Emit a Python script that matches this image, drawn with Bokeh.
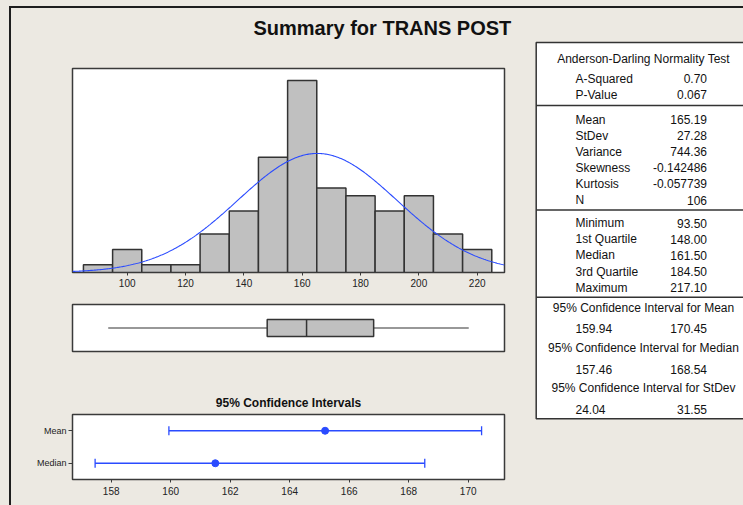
import numpy as np
from bokeh.plotting import figure
from bokeh.layouts import row, column
from bokeh.models import Range1d, FixedTicker, FactorRange, Spacer, Title
from bokeh.core.properties import value
from bokeh.embed import file_html
from bokeh.resources import INLINE

# ---------------- data ----------------
title_text = "Summary for TRANS POST"
bin_centers = [90, 100, 110, 120, 130, 140, 150, 160, 170, 180, 190, 200, 210, 220]
counts = [1, 3, 1, 1, 5, 8, 15, 25, 11, 10, 8, 10, 5, 3]
bin_width = 10
hist_ticks = [100, 120, 140, 160, 180, 200, 220]

mean_val = 165.19
stdev_val = 27.28
n_val = 106
box_min, box_q1, box_med, box_q3, box_max = 93.50, 148.00, 161.50, 184.50, 217.10

ci_title = "95% Confidence Intervals"
ci_cats = ["Mean", "Median"]
ci_centers = [165.19, 161.50]
ci_lower = [159.94, 157.46]
ci_upper = [170.45, 168.54]
ci_ticks = [158, 160, 162, 164, 166, 168, 170]

ad_header = "Anderson-Darling Normality Test"
ad_labels = ["A-Squared", "P-Value"]
ad_values = ["0.70", "0.067"]
desc_labels = ["Mean", "StDev", "Variance", "Skewness", "Kurtosis", "N"]
desc_values = ["165.19", "27.28", "744.36", "-0.142486", "-0.057739", "106"]
quart_labels = ["Minimum", "1st Quartile", "Median", "3rd Quartile", "Maximum"]
quart_values = ["93.50", "148.00", "161.50", "184.50", "217.10"]
ci_headers = ["95% Confidence Interval for Mean",
              "95% Confidence Interval for Median",
              "95% Confidence Interval for StDev"]
ci_tab_lo = ["159.94", "157.46", "24.04"]
ci_tab_hi = ["170.45", "168.54", "31.55"]

# ---------------- style ----------------
BG = "#ECE9E2"
FRAME = "#3A3A3A"
BAR = "#C0C0C0"
BLUE = "#2A4BFF"
DARK = "#1E1E1E"
FONT = "Liberation Sans"
LEFT_W = 519
TAB_W = 213
MAIN_H = 497


def base_fig(**kw):
    p = figure(output_backend="svg", toolbar_location=None, **kw)
    p.background_fill_color = "white"
    p.border_fill_color = BG
    p.outline_line_color = FRAME
    p.outline_line_width = 1.5
    p.grid.visible = False
    return p


# ---------------- histogram (with main title) ----------------
hx0, hx1, hy1 = 81.25, 229.36, 26.56
hist = base_fig(width=LEFT_W, height=292, x_range=Range1d(hx0, hx1), y_range=Range1d(0, hy1),
                y_axis_location=None, min_border_left=61, min_border_right=26,
                min_border_top=60, min_border_bottom=28)
# blank gap between frame and main title, then the main title itself
hist.add_layout(Title(text=" ", text_font_size="10px", standoff=17), "above")
hist.add_layout(Title(text=title_text, align="left", offset=181, standoff=0,
                      text_font=FONT, text_font_size="20px", text_font_style="bold",
                      text_color="#111111"), "above")

lefts = [c - bin_width / 2 for c in bin_centers]
rights = [c + bin_width / 2 for c in bin_centers]
hist.quad(left=lefts, right=rights, bottom=0, top=counts, fill_color=BAR,
          line_color="#333333", line_width=1.5)
xs = np.linspace(hx0, hx1, 400)
ys = n_val * bin_width * np.exp(-0.5 * ((xs - mean_val) / stdev_val) ** 2) / (stdev_val * np.sqrt(2 * np.pi))
hist.line(xs, ys, line_color=BLUE, line_width=1.1)
hist.xaxis.ticker = FixedTicker(ticks=hist_ticks)
hist.xaxis.minor_tick_line_color = None
hist.xaxis.major_tick_in = 0
hist.xaxis.major_tick_out = 3
hist.xaxis.major_label_standoff = 3
hist.xaxis.major_label_text_font = FONT
hist.xaxis.major_label_text_font_size = "10px"
hist.xaxis.major_label_text_color = "#222222"
hist.xaxis.axis_line_color = FRAME
hist.xaxis.major_tick_line_color = FRAME

# ---------------- boxplot ----------------
box = base_fig(width=LEFT_W, height=80, x_range=hist.x_range, y_range=Range1d(0, 1),
               x_axis_location=None, y_axis_location=None, min_border_left=61, min_border_right=26,
               min_border_top=4, min_border_bottom=29)
box.segment(x0=[box_min, box_q3], y0=[0.5, 0.5], x1=[box_q1, box_max], y1=[0.5, 0.5],
            line_color="#333333", line_width=1.2)
box.quad(left=[box_q1], right=[box_q3], bottom=[0.32], top=[0.68], fill_color=BAR,
         line_color="#333333", line_width=1.5)
box.segment(x0=[box_med], y0=[0.32], x1=[box_med], y1=[0.68], line_color="#333333", line_width=1.5)

# ---------------- confidence intervals ----------------
ci = base_fig(width=LEFT_W, height=125, x_range=Range1d(156.70, 171.22),
              y_range=FactorRange(factors=list(reversed(ci_cats))),
              min_border_left=61, min_border_right=26, min_border_top=34, min_border_bottom=26,
              title=ci_title)
ci.title.align = "center"
ci.title.text_font = FONT
ci.title.text_font_size = "12px"
ci.title.text_font_style = "bold"
ci.title.text_color = "#111111"
ci.segment(x0=ci_lower, y0=ci_cats, x1=ci_upper, y1=ci_cats, line_color=BLUE, line_width=1.3)
ci.scatter(x=ci_lower, y=ci_cats, marker="dash", angle=np.pi / 2, size=9, line_color=BLUE, line_width=1.3)
ci.scatter(x=ci_upper, y=ci_cats, marker="dash", angle=np.pi / 2, size=9, line_color=BLUE, line_width=1.3)
ci.scatter(x=ci_centers, y=ci_cats, marker="circle", size=7, fill_color=BLUE, line_color=BLUE)
ci.xaxis.ticker = FixedTicker(ticks=ci_ticks)
for ax in (ci.xaxis, ci.yaxis):
    ax.minor_tick_line_color = None
    ax.major_tick_in = 0
    ax.major_tick_out = 3
    ax.major_label_standoff = 4
    ax.major_label_text_font = FONT
    ax.major_label_text_font_size = "10px"
    ax.major_label_text_color = "#222222"
    ax.axis_line_color = FRAME
    ax.major_tick_line_color = FRAME
ci.yaxis.major_label_standoff = 2
ci.yaxis.major_tick_out = 4
ci.yaxis.major_label_text_font_size = "9px"

# ---------------- summary table ----------------
tab = base_fig(width=TAB_W, height=MAIN_H, x_range=Range1d(530, 743), y_range=Range1d(505, 8),
               x_axis_location=None, y_axis_location=None, min_border=0)
tab.background_fill_color = BG
tab.outline_line_color = None
tab_left, tab_right, tab_top, tab_bottom = 535.7, 760, 42, 418.3
tab.quad(left=[tab_left], right=[tab_right], top=[tab_top], bottom=[tab_bottom],
         fill_color="white", line_color="#333333", line_width=1.5)
dividers = [105, 209.5, 296.7]
tab.segment(x0=[tab_left] * 3, y0=dividers, x1=[tab_right] * 3, y1=dividers,
            line_color="#333333", line_width=1.5)

lab_x, val_x, mid_x = 575, 706.5, 643
step = 16.1
lab_txt, lab_y, val_txt = [], [], []
for i, (l, v) in enumerate(zip(ad_labels, ad_values)):
    lab_txt.append(l); val_txt.append(v); lab_y.append(78.3 + i * step)
for i, (l, v) in enumerate(zip(desc_labels, desc_values)):
    lab_txt.append(l); val_txt.append(v); lab_y.append(119 + i * step)
for i, (l, v) in enumerate(zip(quart_labels, quart_values)):
    lab_txt.append(l); val_txt.append(v); lab_y.append(222.7 + i * step)
ci_lo_y = [328.3 + i * 40.3 for i in range(3)]
lab_txt += ci_tab_lo
lab_y += ci_lo_y
val_txt += ci_tab_hi
head_txt = [ad_header] + ci_headers
head_y = [58.3] + [307.7 + i * 40 for i in range(3)]

common = dict(text_font=value(FONT), text_font_size="12px", text_color="#111111", text_baseline="middle")
tab.text(x=[lab_x] * len(lab_txt), y=lab_y, text=lab_txt, text_align="left", **common)
tab.text(x=[val_x] * len(val_txt), y=lab_y, text=val_txt, text_align="right", **common)
tab.text(x=[mid_x] * len(head_txt), y=head_y, text=head_txt, text_align="center", **common)

# ---------------- page frame (outer border, top-left) ----------------
bg = {"background-color": BG}
dk = {"background-color": DARK}
top_strip = Spacer(width=743, height=6, styles=bg)
top_line = row(Spacer(width=9, height=2, styles=bg), Spacer(width=734, height=2, styles=dk), spacing=0)
main = row(Spacer(width=9, height=MAIN_H, styles=bg), Spacer(width=2, height=MAIN_H, styles=dk),
           column(hist, box, ci, spacing=0, styles=bg), tab, spacing=0, styles=bg)
layout = column(top_strip, top_line, main, spacing=0, styles=bg)
open("out.html", "w").write(file_html(layout, INLINE))
